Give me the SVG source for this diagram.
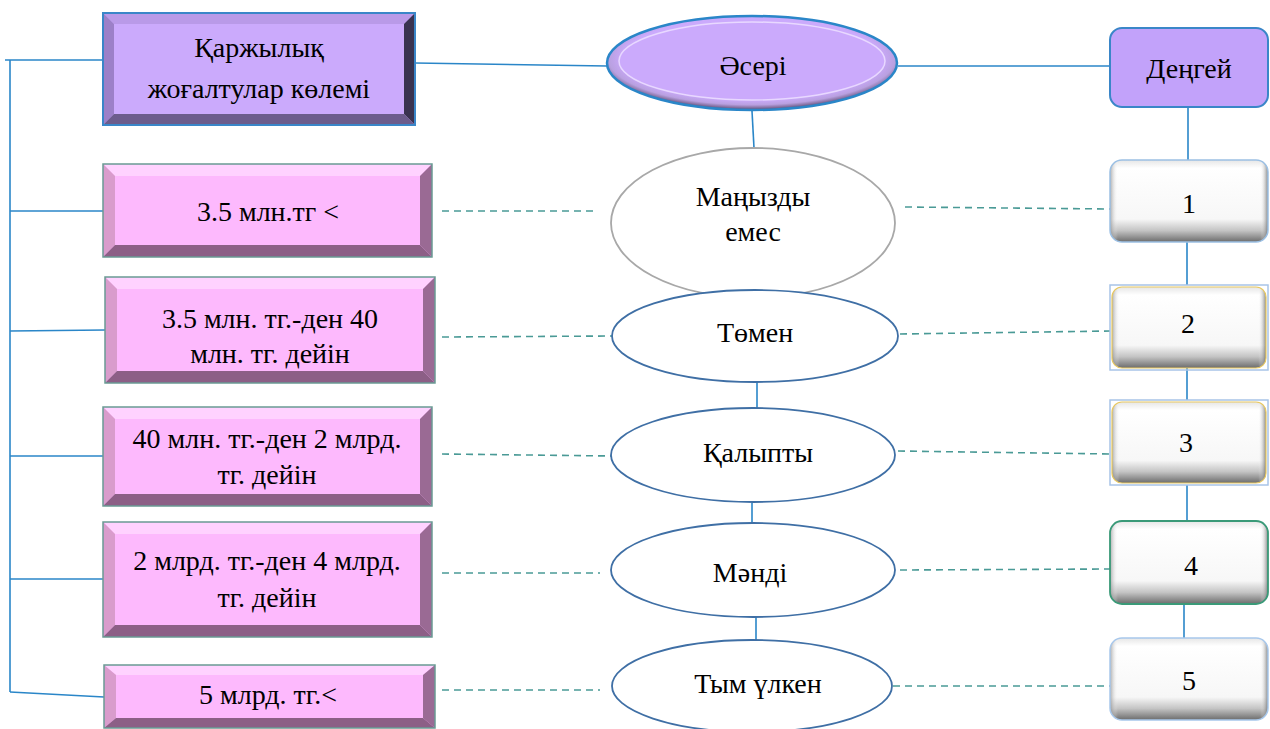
<svg xmlns="http://www.w3.org/2000/svg" width="1270" height="729" viewBox="0 0 1270 729">
<defs>
<linearGradient id="gV" x1="0" y1="0" x2="0" y2="1">
<stop offset="0" stop-color="#e6e6e6"/>
<stop offset="0.1" stop-color="#ffffff"/>
<stop offset="0.72" stop-color="#f7f7f7"/>
<stop offset="0.86" stop-color="#c4c4c4"/>
<stop offset="1" stop-color="#6c6c6c"/>
</linearGradient>
<linearGradient id="gH" x1="0" y1="0" x2="1" y2="0">
<stop offset="0" stop-color="#888" stop-opacity="0.7"/>
<stop offset="0.05" stop-color="#fff" stop-opacity="0"/>
<stop offset="0.95" stop-color="#fff" stop-opacity="0"/>
<stop offset="1" stop-color="#666" stop-opacity="0.8"/>
</linearGradient>
<radialGradient id="gE" cx="0.5" cy="0.45" r="0.55">
<stop offset="0.8" stop-color="#cbaafc"/>
<stop offset="0.9" stop-color="#b9a0e0"/>
<stop offset="1" stop-color="#5c4a70"/>
</radialGradient>
</defs>

<g id="connectors" fill="none" stroke-width="1.6">
<g stroke="#2a86c8">
<line x1="5" y1="60" x2="103" y2="60"/>
<line x1="10" y1="60" x2="10" y2="692"/>
<line x1="10" y1="211" x2="103" y2="211"/>
<line x1="10" y1="331" x2="105" y2="330"/>
<line x1="10" y1="456" x2="103" y2="456"/>
<line x1="10" y1="579" x2="103" y2="579"/>
<line x1="10" y1="692" x2="104" y2="697"/>
<line x1="415" y1="63" x2="607" y2="66"/>
<line x1="898" y1="66" x2="1110" y2="66"/>
<line x1="752" y1="111" x2="754" y2="148"/>
<line x1="757" y1="382" x2="757" y2="408"/>
<line x1="752" y1="503" x2="752" y2="523"/>
<line x1="756" y1="617" x2="756" y2="640"/>
<line x1="1188" y1="107" x2="1188" y2="160"/>
<line x1="1187" y1="242" x2="1187" y2="285"/>
<line x1="1187" y1="368" x2="1187" y2="400"/>
<line x1="1187" y1="485" x2="1187" y2="521"/>
<line x1="1184" y1="604" x2="1184" y2="640"/>
</g>
<g stroke="#4a9a96" stroke-dasharray="7 5">
<line x1="442" y1="211" x2="598" y2="211"/>
<line x1="905" y1="207" x2="1110" y2="209"/>
<line x1="442" y1="337" x2="612" y2="336"/>
<line x1="900" y1="334" x2="1110" y2="331"/>
<line x1="442" y1="454" x2="612" y2="456"/>
<line x1="898" y1="451" x2="1110" y2="454"/>
<line x1="442" y1="573" x2="600" y2="573"/>
<line x1="900" y1="570" x2="1110" y2="569"/>
<line x1="442" y1="690" x2="600" y2="690"/>
<line x1="893" y1="686" x2="1110" y2="686"/>
</g>
</g>

<g id="title" font-family="Times New Roman, Liberation Serif, DejaVu Serif, serif">
<rect x="103" y="13" width="312" height="112" fill="#cbaafc"/>
<polygon points="103,13 415,13 404,24 114,24" fill="#b99ae8"/>
<polygon points="103,13 114,24 114,114 103,125" fill="#9c80c8"/>
<polygon points="415,13 415,125 404,114 404,24" fill="#3a3350"/>
<polygon points="103,125 415,125 404,114 114,114" fill="#6c5c8c"/>
<rect x="103" y="13" width="312" height="112" fill="none" stroke="#3a86c8" stroke-width="2"/>
<text x="259" y="57" text-anchor="middle" font-family="Times New Roman, Liberation Serif, DejaVu Serif, serif" font-size="28">Қаржылық</text>
<text x="259" y="98" text-anchor="middle" font-family="Times New Roman, Liberation Serif, DejaVu Serif, serif" font-size="28">жоғалтулар көлемі</text>
</g>

<g id="box1">
<rect x="103" y="164" width="329" height="93" fill="#fdb9fd"/>
<polygon points="103,164 432,164 420,176 115,176" fill="#ffd2ff"/>
<polygon points="103,164 115,176 115,245 103,257" fill="#d99ccc"/>
<polygon points="432,164 432,257 420,245 420,176" fill="#9a6a94"/>
<polygon points="103,257 432,257 420,245 115,245" fill="#8c5f86"/>
<rect x="103" y="164" width="329" height="93" fill="none" stroke="#6a9a94" stroke-width="1.5"/>
<text x="268" y="221" text-anchor="middle" font-family="Times New Roman, Liberation Serif, DejaVu Serif, serif" font-size="28">3.5 млн.тг &lt;</text>
</g>

<g id="box2">
<rect x="105" y="277" width="330" height="106" fill="#fdb9fd"/>
<polygon points="105,277 435,277 423,289 117,289" fill="#ffd2ff"/>
<polygon points="105,277 117,289 117,371 105,383" fill="#d99ccc"/>
<polygon points="435,277 435,383 423,371 423,289" fill="#9a6a94"/>
<polygon points="105,383 435,383 423,371 117,371" fill="#8c5f86"/>
<rect x="105" y="277" width="330" height="106" fill="none" stroke="#6a9a94" stroke-width="1.5"/>
<text x="270" y="328" text-anchor="middle" font-family="Times New Roman, Liberation Serif, DejaVu Serif, serif" font-size="28">3.5 млн. тг.-ден 40</text>
<text x="270" y="363" text-anchor="middle" font-family="Times New Roman, Liberation Serif, DejaVu Serif, serif" font-size="28">млн. тг. дейін</text>
</g>

<g id="box3">
<rect x="103" y="407" width="329" height="99" fill="#fdb9fd"/>
<polygon points="103,407 432,407 420,419 115,419" fill="#ffd2ff"/>
<polygon points="103,407 115,419 115,494 103,506" fill="#d99ccc"/>
<polygon points="432,407 432,506 420,494 420,419" fill="#9a6a94"/>
<polygon points="103,506 432,506 420,494 115,494" fill="#8c5f86"/>
<rect x="103" y="407" width="329" height="99" fill="none" stroke="#6a9a94" stroke-width="1.5"/>
<text x="267" y="448" text-anchor="middle" font-family="Times New Roman, Liberation Serif, DejaVu Serif, serif" font-size="28">40 млн. тг.-ден 2 млрд.</text>
<text x="267" y="484" text-anchor="middle" font-family="Times New Roman, Liberation Serif, DejaVu Serif, serif" font-size="28">тг. дейін</text>
</g>

<g id="box4">
<rect x="103" y="522" width="329" height="115" fill="#fdb9fd"/>
<polygon points="103,522 432,522 420,534 115,534" fill="#ffd2ff"/>
<polygon points="103,522 115,534 115,625 103,637" fill="#d99ccc"/>
<polygon points="432,522 432,637 420,625 420,534" fill="#9a6a94"/>
<polygon points="103,637 432,637 420,625 115,625" fill="#8c5f86"/>
<rect x="103" y="522" width="329" height="115" fill="none" stroke="#6a9a94" stroke-width="1.5"/>
<text x="267" y="570" text-anchor="middle" font-family="Times New Roman, Liberation Serif, DejaVu Serif, serif" font-size="28">2 млрд. тг.-ден 4 млрд.</text>
<text x="267" y="607" text-anchor="middle" font-family="Times New Roman, Liberation Serif, DejaVu Serif, serif" font-size="28">тг. дейін</text>
</g>

<g id="box5">
<rect x="104" y="665" width="331" height="63" fill="#fdb9fd"/>
<polygon points="104,665 435,665 423,675 116,675" fill="#ffd2ff"/>
<polygon points="104,665 116,675 116,718 104,728" fill="#d99ccc"/>
<polygon points="435,665 435,728 423,718 423,675" fill="#9a6a94"/>
<polygon points="104,728 435,728 423,718 116,718" fill="#8c5f86"/>
<rect x="104" y="665" width="331" height="63" fill="none" stroke="#6a9a94" stroke-width="1.5"/>
<text x="268" y="704" text-anchor="middle" font-family="Times New Roman, Liberation Serif, DejaVu Serif, serif" font-size="28">5 млрд. тг.&lt;</text>
</g>

<g id="aseri">
<ellipse cx="752" cy="63" rx="145" ry="47" fill="url(#gE)" stroke="#2a86c8" stroke-width="2.5"/>
<ellipse cx="752" cy="61" rx="133" ry="39" fill="#cbaafc" stroke="#e8d8ff" stroke-width="1.5"/>
<text x="753" y="75" text-anchor="middle" font-family="Times New Roman, Liberation Serif, DejaVu Serif, serif" font-size="28">Әсері</text>
</g>

<g id="level">
<rect x="1110" y="28" width="158" height="79" rx="12" fill="#c2a2fa" stroke="#3a86c8" stroke-width="2"/>
<text x="1189" y="78" text-anchor="middle" font-family="Times New Roman, Liberation Serif, DejaVu Serif, serif" font-size="28">Деңгей</text>
</g>

<g id="e1">
<ellipse cx="753" cy="223" rx="142" ry="75" fill="#fff" stroke="#a8a8a8" stroke-width="1.8"/>
<text x="753" y="206" text-anchor="middle" font-family="Times New Roman, Liberation Serif, DejaVu Serif, serif" font-size="28">Маңызды</text>
<text x="753" y="241" text-anchor="middle" font-family="Times New Roman, Liberation Serif, DejaVu Serif, serif" font-size="28">емес</text>
</g>
<g id="e2">
<ellipse cx="755" cy="336" rx="143" ry="46" fill="#fff" stroke="#3f6fa5" stroke-width="1.8"/>
<text x="755" y="342" text-anchor="middle" font-family="Times New Roman, Liberation Serif, DejaVu Serif, serif" font-size="28">Төмен</text>
</g>
<g id="e3">
<ellipse cx="753" cy="455" rx="142" ry="47" fill="#fff" stroke="#3f6fa5" stroke-width="1.8"/>
<text x="758" y="462" text-anchor="middle" font-family="Times New Roman, Liberation Serif, DejaVu Serif, serif" font-size="28">Қалыпты</text>
</g>
<g id="e4">
<ellipse cx="753" cy="570" rx="142" ry="47" fill="#fff" stroke="#3f6fa5" stroke-width="1.8"/>
<text x="750" y="582" text-anchor="middle" font-family="Times New Roman, Liberation Serif, DejaVu Serif, serif" font-size="28">Мәнді</text>
</g>
<g id="e5">
<ellipse cx="752" cy="686" rx="140" ry="46" fill="#fff" stroke="#3f6fa5" stroke-width="1.8"/>
<text x="758" y="693" text-anchor="middle" font-family="Times New Roman, Liberation Serif, DejaVu Serif, serif" font-size="28">Тым үлкен</text>
</g>

<g id="n1">
<rect x="1110" y="160" width="158" height="82" rx="12" fill="url(#gV)"/>
<rect x="1110" y="160" width="158" height="82" rx="12" fill="url(#gH)" stroke="#9cc0e4" stroke-width="1.5"/>
<text x="1189" y="213" text-anchor="middle" font-family="Times New Roman, Liberation Serif, DejaVu Serif, serif" font-size="28">1</text>
</g>
<g id="n2">
<rect x="1110" y="285" width="158" height="85" fill="none" stroke="#a8c4e8" stroke-width="1.5"/>
<rect x="1112" y="287" width="154" height="81" rx="10" fill="url(#gV)"/>
<rect x="1112" y="287" width="154" height="81" rx="10" fill="url(#gH)" stroke="#e8c860" stroke-width="1.2"/>
<text x="1188" y="333" text-anchor="middle" font-family="Times New Roman, Liberation Serif, DejaVu Serif, serif" font-size="28">2</text>
</g>
<g id="n3">
<rect x="1110" y="400" width="158" height="85" fill="none" stroke="#a8c4e8" stroke-width="1.5"/>
<rect x="1112" y="402" width="154" height="81" rx="10" fill="url(#gV)"/>
<rect x="1112" y="402" width="154" height="81" rx="10" fill="url(#gH)" stroke="#e8c860" stroke-width="1.2"/>
<text x="1186" y="452" text-anchor="middle" font-family="Times New Roman, Liberation Serif, DejaVu Serif, serif" font-size="28">3</text>
</g>
<g id="n4">
<rect x="1110" y="521" width="158" height="83" rx="12" fill="url(#gV)"/>
<rect x="1110" y="521" width="158" height="83" rx="12" fill="url(#gH)" stroke="#3a9a78" stroke-width="1.8"/>
<text x="1191" y="575" text-anchor="middle" font-family="Times New Roman, Liberation Serif, DejaVu Serif, serif" font-size="28">4</text>
</g>
<g id="n5">
<rect x="1110" y="638" width="158" height="82" rx="12" fill="url(#gV)"/>
<rect x="1110" y="638" width="158" height="82" rx="12" fill="url(#gH)" stroke="#a8c8ec" stroke-width="1.5"/>
<text x="1189" y="690" text-anchor="middle" font-family="Times New Roman, Liberation Serif, DejaVu Serif, serif" font-size="28">5</text>
</g>
</svg>
